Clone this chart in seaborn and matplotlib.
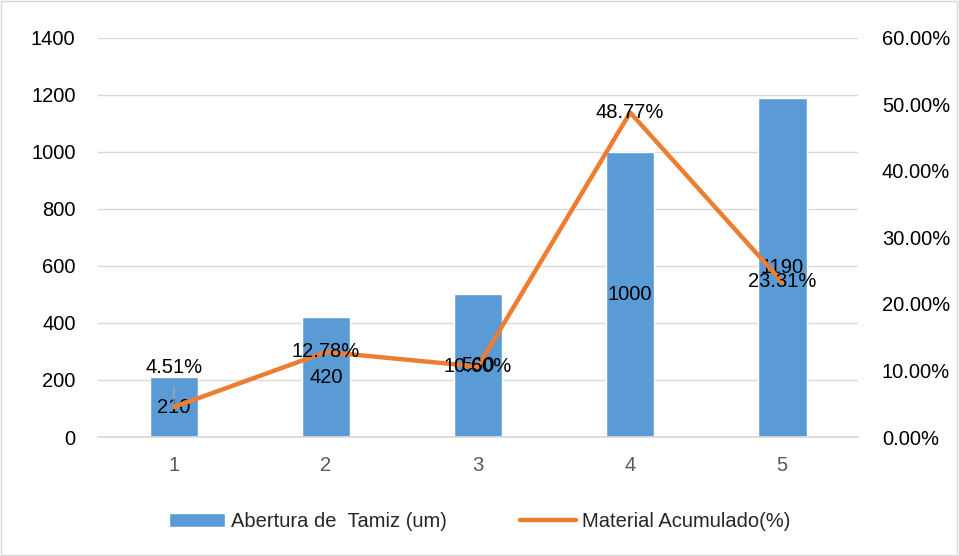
import numpy as np
import matplotlib.pyplot as plt
import seaborn as sns
from matplotlib.ticker import PercentFormatter
from matplotlib.patches import Patch
from matplotlib.lines import Line2D

categorias = ['1', '2', '3', '4', '5']
abertura = [210, 420, 500, 1000, 1190]
acumulado = [4.51, 12.78, 10.60, 48.77, 23.31]

sns.set_theme(style='white')
plt.rcParams['font.family'] = ['Liberation Sans', 'DejaVu Sans']

azul = '#5B9BD5'
naranja = '#ED7D31'
gris = '#595959'
fs = 14.5

fig = plt.figure(figsize=(9.59, 5.56), dpi=100)
ax = fig.add_axes([0.102, 0.214, 0.793, 0.718])

sns.barplot(x=categorias, y=abertura, color=azul, width=0.32, saturation=1, ax=ax)
ax.set_ylim(0, 1400)
ax.set_yticks(range(0, 1401, 200))
ax.set_xlim(-0.5, 4.5)
ax.yaxis.grid(True, color='#D9D9D9', linewidth=1)
ax.set_axisbelow(True)
for s in ['top', 'right', 'left']:
    ax.spines[s].set_visible(False)
ax.spines['bottom'].set_color('#D9D9D9')
ax.tick_params(axis='y', labelsize=fs, colors='black', length=0, pad=16)
ax.tick_params(axis='x', labelsize=fs, colors=gris, length=0, pad=14)

ax2 = ax.twinx()
x = np.arange(len(categorias))
sns.lineplot(x=x, y=acumulado, color=naranja, linewidth=3.2, ax=ax2)
ax2.set_ylim(0, 60)
ax2.set_yticks(range(0, 61, 10))
ax2.yaxis.set_major_formatter(PercentFormatter(decimals=2))
for s in ['top', 'right', 'left', 'bottom']:
    ax2.spines[s].set_visible(False)
ax2.tick_params(axis='y', labelsize=fs, colors='black', length=0, pad=17)
ax.set_xlim(-0.5, 4.5)

# etiquetas de barras (centradas)
for i, v in enumerate(abertura):
    ax.text(i, v / 2, str(v), ha='center', va='center', fontsize=fs, color='black')

# etiquetas de la linea
for i, v in enumerate(acumulado):
    if i == 0:
        ax2.annotate(f'{v:.2f}%', xy=(i, v), xytext=(i, v + 6), ha='center', va='center',
                     fontsize=fs, color='black',
                     arrowprops=dict(arrowstyle='-', color='#A6A6A6', lw=1, shrinkA=5, shrinkB=1))
    else:
        ax2.text(i, v, f'{v:.2f}%', ha='center', va='center', fontsize=fs, color='black')

handles = [Patch(facecolor=azul, label='Abertura de  Tamiz (um)'),
           Line2D([0], [0], color=naranja, linewidth=3.2, label='Material Acumulado(%)')]
fig.legend(handles=handles, loc='center', bbox_to_anchor=(0.5, 0.062), ncol=2, frameon=False,
           fontsize=fs, handlelength=2.8, columnspacing=3.6, handletextpad=0.3)

fig.add_artist(plt.Rectangle((0.001, 0.001), 0.997, 0.997, transform=fig.transFigure,
                             fill=False, edgecolor='#D9D9D9', linewidth=1))

fig.savefig('out.png', dpi=100)
